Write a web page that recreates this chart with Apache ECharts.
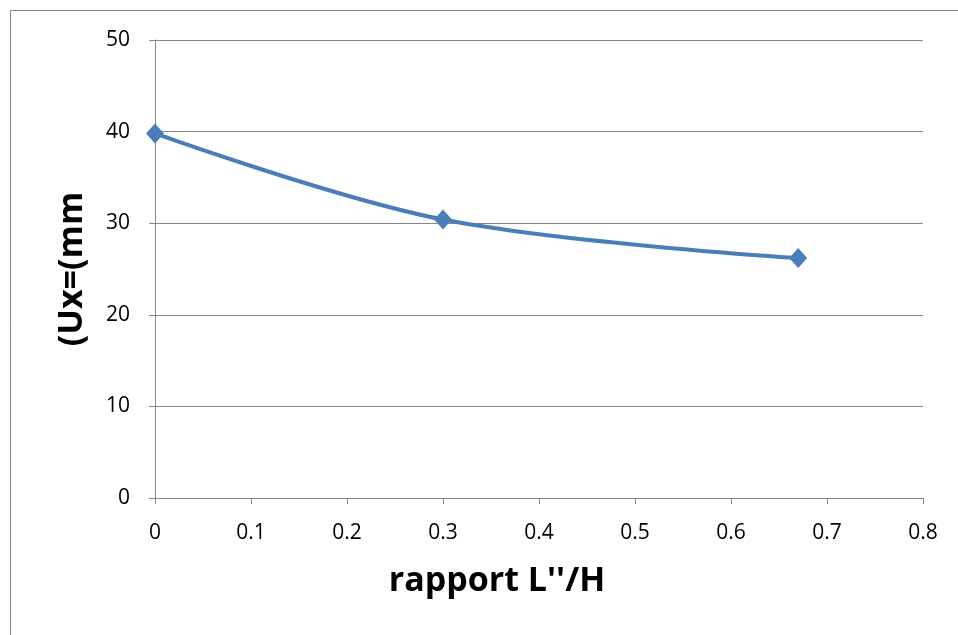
<!DOCTYPE html>
<html><head><meta charset="utf-8">
<script src="https://cdn.jsdelivr.net/npm/echarts@6/dist/echarts.min.js"></script>
<style>html,body{margin:0;padding:0;background:#fff}#c{width:958px;height:635px}</style>
</head><body><div id="c"></div>
<script>
const xValues = [0, 0.3, 0.67];
const yValues = [39.8, 30.4, 26.2];
const xTitle = "rapport L''/H";
const yTitle = "(Ux=(mm";

const chart = echarts.init(document.getElementById('c'), null, {renderer:'canvas'});
const font = "'Open Sans', 'Liberation Sans', sans-serif";
chart.setOption({
  animation:false,
  backgroundColor:'#fff',
  graphic:[{type:'rect', shape:{x:10.5,y:10.5,width:1000,height:1000}, style:{fill:'none',stroke:'#888',lineWidth:1}, z:-1}],
  grid:{left:155, right:35, top:40, bottom:137},
  xAxis:{type:'value', min:0, max:0.8, interval:0.1,
    name:xTitle, nameLocation:'middle', nameGap:66,
    nameTextStyle:{fontFamily:font, fontSize:34, fontWeight:'bold', color:'#000', padding:[0,84,0,0]},
    axisLine:{show:true, onZero:false, lineStyle:{color:'#888', width:1}},
    axisTick:{show:true, inside:false, length:6, lineStyle:{color:'#888'}},
    axisLabel:{fontFamily:font, fontSize:21, color:'#000', margin:25, formatter:v=>String(Math.round(v*10)/10)},
    splitLine:{show:false}},
  yAxis:{type:'value', min:0, max:50, interval:10,
    name:yTitle, nameLocation:'middle', nameGap:66, nameRotate:90,
    nameTextStyle:{fontFamily:font, fontSize:34, fontWeight:'bold', color:'#000'},
    axisLine:{show:true, lineStyle:{color:'#888', width:1}},
    axisTick:{show:true, inside:false, length:6, lineStyle:{color:'#888'}},
    axisLabel:{fontFamily:font, fontSize:21, color:'#000', margin:25},
    splitLine:{show:true, lineStyle:{color:'#888', width:1}}},
  series:[{type:'line', data:xValues.map((x,i)=>[x,yValues[i]]), smooth:0.35,
    symbol:'diamond', symbolSize:[18,20], lineStyle:{color:'#4a7ebb', width:4},
    itemStyle:{color:'#4a7ebb'}}]
});
</script></body></html>
